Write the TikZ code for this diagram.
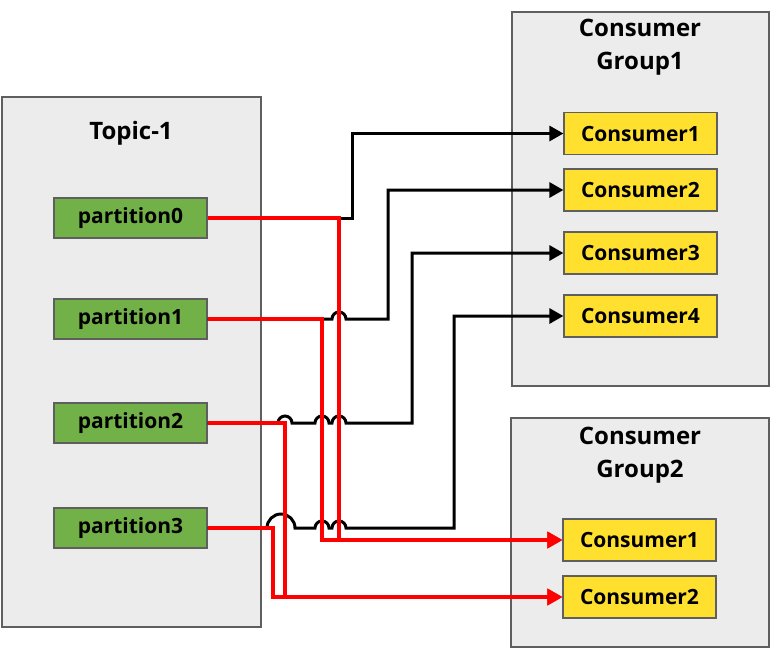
\documentclass[tikz,border=0pt]{standalone}
\usepackage{fontspec}
\setmainfont{Open Sans}
\usetikzlibrary{arrows.meta,calc}

\definecolor{boxgray}{RGB}{236,236,236}
\definecolor{edgegray}{RGB}{95,95,95}
\definecolor{partgreen}{RGB}{114,176,72}
\definecolor{consyellow}{RGB}{255,224,46}

\tikzset{
  groupbox/.style={draw=edgegray, fill=boxgray, line width=0.6pt, inner sep=0pt},
  grouptitle/.style={font=\bfseries\fontsize{12}{16.5}\selectfont, align=center, inner sep=0pt},
  partbox/.style={draw=edgegray, fill=partgreen, line width=0.6pt, minimum width=76.5pt, minimum height=20pt, inner sep=0pt, font=\bfseries\fontsize{10.5}{12}\selectfont},
  consbox/.style={draw=edgegray, fill=consyellow, line width=0.6pt, minimum width=76.5pt, minimum height=21pt, inner sep=0pt, font=\bfseries\fontsize{10.5}{12}\selectfont},
  toblack/.style={line width=1.5pt, black, -{Triangle[length=7pt,width=7.5pt]}},
  tored/.style={line width=1.7pt, red, -{Triangle[length=7.5pt,width=8pt]}},
  hop/.style={insert path={arc[start angle=180,end angle=0,radius=3.5pt]}},
  bighop/.style={insert path={arc[start angle=180,end angle=0,radius=7pt]}},
}

\begin{document}
\begin{tikzpicture}[x=0.5pt,y=-0.5pt]
        \useasboundingbox (0,0) rectangle (770,649);
        % the three frames
        \node[groupbox, minimum width=129.5pt, minimum height=265pt] (topic) at (131.5,362) {};
        \node[groupbox, minimum width=128.5pt, minimum height=187pt] (grp1) at (640.5,199) {};
        \node[groupbox, minimum width=129pt, minimum height=114.5pt] (grp2) at (640,532.5) {};
        \node[grouptitle] (topictitle) at (131,133) {Topic-1};
        \node[grouptitle] (grp1title) at (640,47) {Consumer\\Group1};
        \node[grouptitle] (grp2title) at (640,455) {Consumer\\Group2};
        % partitions
        \node[partbox] (p0) at (130.5,218) {partition0};
        \node[partbox] (p1) at (130.5,319) {partition1};
        \node[partbox] (p2) at (130.5,423) {partition2};
        \node[partbox] (p3) at (130.5,528) {partition3};
        % consumers
        \node[consbox] (g1c1) at (640.5,133.5) {Consumer1};
        \node[consbox] (g1c2) at (640.5,190) {Consumer2};
        \node[consbox] (g1c3) at (640.5,253) {Consumer3};
        \node[consbox] (g1c4) at (640.5,316) {Consumer4};
        \node[consbox] (g2c1) at (639.5,540) {Consumer1};
        \node[consbox] (g2c2) at (639.5,597) {Consumer2};
        % x of the vertical runs
        \coordinate (r0) at (339,0);
        \coordinate (r1) at (322,0);
        \coordinate (r2) at (285,0);
        \coordinate (r3) at (273,0);
        \coordinate (b0) at (352,0);
        \coordinate (b1) at (388,0);
        \coordinate (b2) at (412,0);
        \coordinate (b3) at (454,0);
        % group 1
        \draw[toblack] (p0.east) -- (p0.east -| b0) |- (g1c1.west);
        \draw[toblack] (p1.east) -- ($(p1.east -| r0)+(-7,0)$) [hop] -- (p1.east -| b1) |- (g1c2.west);
        \draw[toblack] (p2.east) -- ($(p2.east -| r2)+(-7,0)$) [hop]
                -- ($(p2.east -| r1)+(-7,0)$) [hop]
                -- ($(p2.east -| r0)+(-7,0)$) [hop] -- (p2.east -| b2) |- (g1c3.west);
        \draw[toblack] (p3.east) -- ($(p3.east -| r3)+(-6,0)$) [bighop]
                -- ($(p3.east -| r1)+(-7,0)$) [hop]
                -- ($(p3.east -| r0)+(-7,0)$) [hop] -- (p3.east -| b3) |- (g1c4.west);
        % group 2
        \draw[tored] (p0.east) -- (p0.east -| r0) |- (g2c1.west);
        \draw[tored] (p1.east) -- (p1.east -| r1) |- (g2c1.west);
        \draw[tored] (p2.east) -- (p2.east -| r2) |- (g2c2.west);
        \draw[tored] (p3.east) -- (p3.east -| r3) |- (g2c2.west);
\end{tikzpicture}
\end{document}
